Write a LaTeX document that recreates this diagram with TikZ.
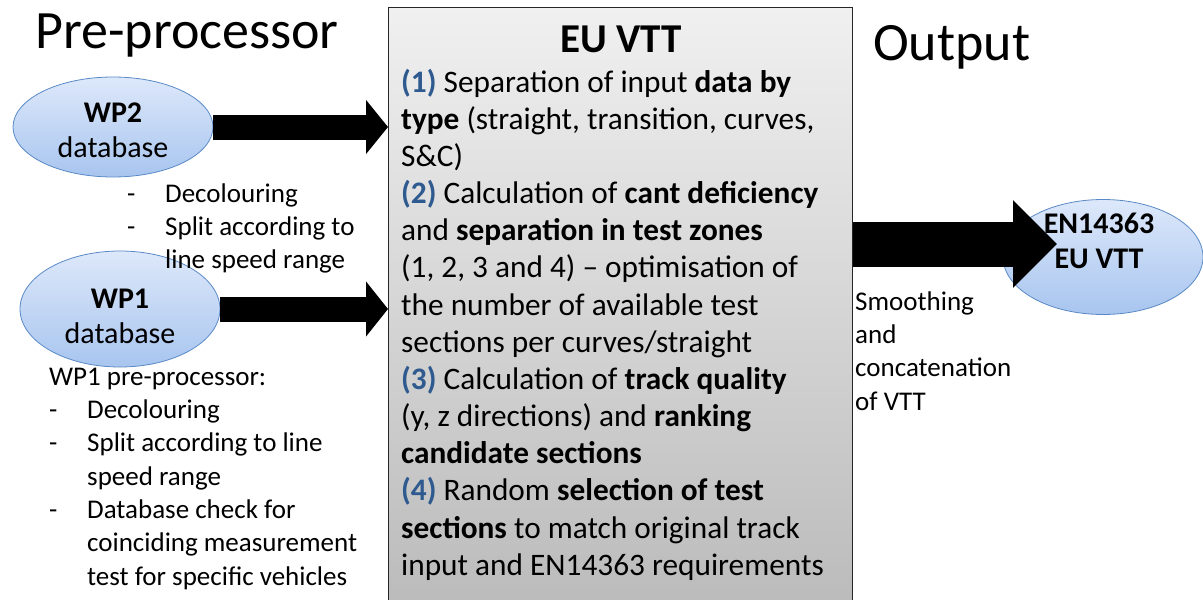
\documentclass[tikz,border=0pt]{standalone}
\usepackage{fontspec}
\setmainfont{Carlito}
\usetikzlibrary{shapes.geometric,arrows.meta}
\definecolor{boxtop}{HTML}{F0F0F0}
\definecolor{boxbot}{HTML}{B9B9B9}
\definecolor{elltop}{HTML}{DDE8FA}
\definecolor{ellbot}{HTML}{A8C5EF}
\definecolor{ellline}{HTML}{5A8AC6}
\definecolor{numblue}{HTML}{2F5A8F}
\newcommand{\nb}[1]{\textcolor{numblue}{\textbf{#1}}}
\newcommand{\dashitem}[1]{\makebox[38pt][l]{-}#1}
\begin{document}
\begin{tikzpicture}[x=1pt,y=-1pt,
  dbell/.style={ellipse, draw=ellline, line width=0.8pt, top color=elltop, bottom color=ellbot,
     minimum width=200pt, minimum height=#1, inner sep=0pt},
  elltext/.style={anchor=north, inner sep=0pt, align=center, font=\fontsize{30}{35}\selectfont},
  title/.style={anchor=base west, inner sep=0pt, font=\fontsize{54}{58}\selectfont},
  note/.style={anchor=north west, inner sep=0pt, align=left, font=\fontsize{27}{33.3}\selectfont},
  blockarrow/.style={line width=#1, draw=black}
]
\useasboundingbox (0,0) rectangle (1203,600);

% central box
\node (box) [anchor=north west, minimum width=464pt, minimum height=620pt, inner sep=0pt,
  top color=boxtop, bottom color=boxbot, draw=black!85, line width=1.3pt] at (388,7) {};

\node (ttl) [anchor=base, inner sep=0pt, font=\bfseries\fontsize{41}{44}\selectfont] at (621,52) {EU VTT};

\node (boxtext) [anchor=north west, inner sep=0pt, align=left, font=\fontsize{31.3}{37.15}\selectfont] at (401,66) {%
\strut\nb{(1)} Separation of input \textbf{data by}\\
\textbf{type} (straight, transition, curves,\\
S\&C)\\
\nb{(2)} Calculation of \textbf{cant deficiency}\\
and \textbf{separation in test zones}\\
(1, 2, 3 and 4) -- optimisation of\\
the number of available test\\
sections per curves/straight\\
\nb{(3)} Calculation of \textbf{track quality}\\
(y, z directions) and \textbf{ranking}\\
\textbf{candidate sections}\\
\nb{(4)} Random \textbf{selection of test}\\
\textbf{sections} to match original track\\
input and EN14363 requirements};

% titles
\node (pre) [title] at (35,48) {Pre-processor};
\node (out) [title] at (873,60) {Output};

% ellipses
\node (wp2) [dbell=100pt] at (113,127) {};
\node (wp2t) [elltext] at (113,97.5) {\strut\textbf{WP2}\\database};
\node (wp1) [dbell=116pt] at (120,309) {};
\node (wp1t) [elltext] at (120,283.5) {\strut\textbf{WP1}\\database};
\node (en) [dbell=115pt] at (1103,257) {};
\node (ent) [elltext] at (1099,208.5) {\strut\textbf{EN14363}\\\textbf{EU VTT}};

% block arrows
\draw[blockarrow=25pt, -{Triangle[length=22pt,width=53pt]}] (wp2.east) -- (box.west |- wp2.east);
\draw[blockarrow=25pt, -{Triangle[length=22pt,width=54pt]}] (wp1.east) -- (box.west |- wp1.east);
\coordinate (outtip) at (1057,244);
\draw[blockarrow=45pt, -{Triangle[length=44pt,width=85pt]}] (box.east |- outtip) -- (outtip);

% notes
\node (n2) [note] at (127,178.7) {\strut\dashitem{Decolouring}\\
\dashitem{Split according to}\\
\hspace*{38pt}line speed range};

\node (n1) [note] at (49,361.7) {\strut WP1 pre-processor:\\
\dashitem{Decolouring}\\
\dashitem{Split according to line}\\
\hspace*{38pt}speed range\\
\dashitem{Database check for}\\
\hspace*{38pt}coinciding measurement\\
\hspace*{38pt}test for specific vehicles};

\node (nout) [note] at (855,286.7) {\strut Smoothing\\and\\concatenation\\of VTT};
\end{tikzpicture}
\end{document}
